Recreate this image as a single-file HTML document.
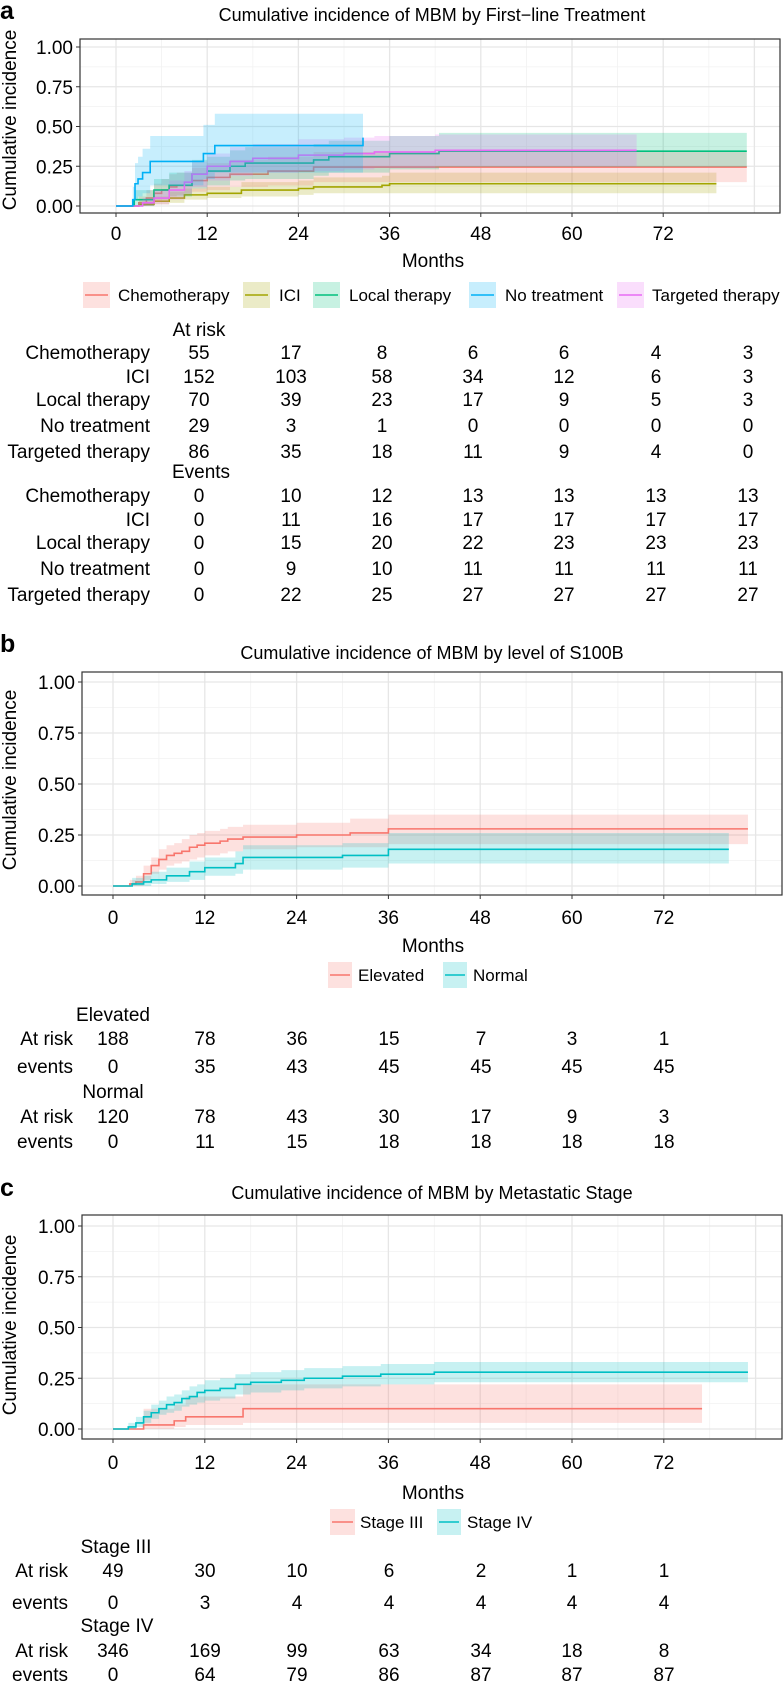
<!DOCTYPE html>
<html><head><meta charset="utf-8"><style>
html,body{margin:0;padding:0;background:#fff;}
svg{display:block;font-family:"Liberation Sans",Arial,sans-serif;}
</style></head><body>
<svg id="fig" width="783" height="1681" viewBox="0 0 783 1681" xmlns="http://www.w3.org/2000/svg"></svg>
<script>
// ---------- Panel a data ----------
const aGroups = ["Chemotherapy","ICI","Local therapy","No treatment","Targeted therapy"];
const aColors = ["#F8766D","#A3A500","#00BF7D","#00B0F6","#E76BF3"];
const aChemoT  = [0,3,4,5,6,7,8,10,12,15,20,26];
const aChemoV  = [0,0.02,0.05,0.08,0.1,0.12,0.13,0.16,0.18,0.2,0.22,0.245];
const aChemoLo = [0,0,0.01,0.03,0.04,0.06,0.07,0.09,0.1,0.12,0.13,0.15];
const aChemoHi = [0,0.06,0.1,0.14,0.17,0.2,0.21,0.24,0.27,0.29,0.31,0.34];
const aChemoEnd = 83;
const aIciT  = [0,3,5,7,9,12,16.5,24,26,35,36];
const aIciV  = [0,0.01,0.03,0.05,0.07,0.08,0.1,0.11,0.12,0.13,0.14];
const aIciLo = [0,0,0.01,0.02,0.04,0.05,0.06,0.07,0.08,0.08,0.08];
const aIciHi = [0,0.03,0.06,0.09,0.11,0.12,0.15,0.16,0.18,0.19,0.21];
const aIciEnd = 79;
const aLocT  = [0,2.4,5,7,10,12,15,17,26,28,36,42.5];
const aLocV  = [0,0.04,0.1,0.13,0.2,0.22,0.25,0.27,0.29,0.31,0.33,0.345];
const aLocLo = [0,0,0.04,0.06,0.11,0.13,0.16,0.17,0.19,0.21,0.23,0.245];
const aLocHi = [0,0.1,0.17,0.21,0.29,0.31,0.35,0.37,0.39,0.41,0.44,0.46];
const aLocEnd = 83;
const aNoT  = [0,2.2,2.5,2.9,3.5,4.5,11.5,13,32.5];
const aNoV  = [0,0.04,0.14,0.17,0.21,0.28,0.33,0.38,0.43];
const aNoLo = [0,0,0.04,0.06,0.08,0.13,0.17,0.21,0.24];
const aNoHi = [0,0.12,0.27,0.31,0.36,0.44,0.51,0.58,0.58];
const aNoEnd = 32.5;
const aTarT  = [0,3.5,5,7,9,10,12,15,18,24,30,34,42];
const aTarV  = [0,0.02,0.05,0.1,0.15,0.2,0.25,0.28,0.3,0.32,0.33,0.34,0.35];
const aTarLo = [0,0,0.01,0.04,0.08,0.12,0.16,0.19,0.21,0.22,0.23,0.24,0.25];
const aTarHi = [0,0.05,0.1,0.16,0.22,0.28,0.33,0.37,0.39,0.42,0.43,0.44,0.45];
const aTarEnd = 68.5;
const aRiskCols = [0,12,24,36,48,60,72];
const aRisk = [[55,17,8,6,6,4,3],[152,103,58,34,12,6,3],[70,39,23,17,9,5,3],[29,3,1,0,0,0,0],[86,35,18,11,9,4,0]];
const aEvents = [[0,10,12,13,13,13,13],[0,11,16,17,17,17,17],[0,15,20,22,23,23,23],[0,9,10,11,11,11,11],[0,22,25,27,27,27,27]];

// ---------- Panel b data ----------
const bGroups = ["Elevated","Normal"];
const bColors = ["#F8766D","#00BFC4"];
const bElT  = [0,2.2,3,4,5,6,7,8,9,10,11,12,14,15,17,24,31,36];
const bElV  = [0,0.01,0.02,0.06,0.1,0.13,0.15,0.16,0.17,0.19,0.2,0.21,0.22,0.23,0.24,0.25,0.26,0.28];
const bElLo = [0,0,0,0.03,0.06,0.08,0.1,0.11,0.12,0.13,0.14,0.15,0.16,0.17,0.18,0.19,0.19,0.205];
const bElHi = [0,0.03,0.05,0.1,0.14,0.18,0.2,0.21,0.23,0.25,0.26,0.27,0.28,0.29,0.3,0.31,0.33,0.35];
const bElEnd = 83;
const bNoT  = [0,2.5,4,5,7,10,12,16,17,30,36];
const bNoV  = [0,0.01,0.02,0.03,0.05,0.07,0.09,0.11,0.14,0.15,0.18];
const bNoLo = [0,0,0,0.01,0.02,0.03,0.05,0.06,0.08,0.09,0.11];
const bNoHi = [0,0.04,0.05,0.07,0.09,0.12,0.14,0.17,0.2,0.21,0.26];
const bNoEnd = 80.5;
const bCols = [0,12,24,36,48,60,72];
const bElRisk = [188,78,36,15,7,3,1];
const bElEvents = [0,35,43,45,45,45,45];
const bNoRisk = [120,78,43,30,17,9,3];
const bNoEvents = [0,11,15,18,18,18,18];

// ---------- Panel c data ----------
const cGroups = ["Stage III","Stage IV"];
const cColors = ["#F8766D","#00BFC4"];
const c3T  = [0,4,8,9.5,17];
const c3V  = [0,0.02,0.04,0.06,0.1];
const c3Lo = [0,0,0.01,0.02,0.03];
const c3Hi = [0,0.1,0.12,0.16,0.22];
const c3End = 77;
const c4T  = [0,2,3,4,5,6,7,8,9,10,11,12,14,16,18,22,25,30,35,42];
const c4V  = [0,0.01,0.03,0.06,0.08,0.1,0.12,0.13,0.15,0.16,0.18,0.19,0.2,0.22,0.23,0.24,0.25,0.26,0.27,0.28];
const c4Lo = [0,0,0.01,0.03,0.05,0.07,0.08,0.09,0.11,0.12,0.13,0.14,0.15,0.17,0.18,0.19,0.2,0.21,0.22,0.23];
const c4Hi = [0,0.03,0.06,0.09,0.12,0.14,0.16,0.17,0.19,0.21,0.22,0.24,0.25,0.27,0.28,0.29,0.3,0.31,0.32,0.33];
const c4End = 83;
const cCols = [0,12,24,36,48,60,72];
const c3Risk = [49,30,10,6,2,1,1];
const c3Events = [0,3,4,4,4,4,4];
const c4Risk = [346,169,99,63,34,18,8];
const c4Events = [0,64,79,86,87,87,87];

const xTicks = [0,12,24,36,48,60,72];
const yTicks = [0,0.25,0.5,0.75,1];
const yTickLabels = ["0.00","0.25","0.50","0.75","1.00"];

// ---------- drawing ----------
const NS = "http://www.w3.org/2000/svg";
const svg = document.getElementById("fig");
function mk(tag, attrs, parent, text){
  const e = document.createElementNS(NS, tag);
  for (const k in attrs) e.setAttribute(k, attrs[k]);
  if (text !== undefined) e.textContent = text;
  (parent || svg).appendChild(e);
  return e;
}
function txt(x, y, s, size, anchor, parent, name){
  const t = mk("text", {x:x, y:y, "font-size":size, "text-anchor":anchor||"middle", fill:"#000"}, parent, s);
  
  
  return t;
}

function panel(id, box, x0, xpm, y0, ypu){
  const g = mk("g", {});
  
  
  const X = m => x0 + m * xpm;
  const Y = v => y0 - v * ypu;
  // grid
  const grid = mk("g", {}, g);
  
  
  for (let m = 6; m <= 78; m += 12) mk("line", {x1:X(m), x2:X(m), y1:box[1], y2:box[3], stroke:"#f2f2f2", "stroke-width":0.8}, grid);
  for (let v = 0.125; v < 1.1; v += 0.25) mk("line", {x1:box[0], x2:box[2], y1:Y(v), y2:Y(v), stroke:"#f2f2f2", "stroke-width":0.8}, grid);
  for (let m = 0; m <= 84; m += 12) mk("line", {x1:X(m), x2:X(m), y1:box[1], y2:box[3], stroke:"#e6e6e6", "stroke-width":1.3}, grid);
  yTicks.forEach(v => mk("line", {x1:box[0], x2:box[2], y1:Y(v), y2:Y(v), stroke:"#e6e6e6", "stroke-width":1.3}, grid));
  return {g, X, Y, box};
}
function stepPts(T, V, end, X, Y){
  let d = [];
  for (let i = 0; i < T.length; i++){
    const nx = (i + 1 < T.length) ? T[i+1] : end;
    d.push([X(T[i]), Y(V[i])]); d.push([X(nx), Y(V[i])]);
  }
  return d;
}
function series(p, T, V, Lo, Hi, end, color, name){
  const up = stepPts(T, Hi, end, p.X, p.Y);
  const lo = stepPts(T, Lo, end, p.X, p.Y).reverse();
  const band = mk("polygon", {points: up.concat(lo).map(q => q.join(",")).join(" "), fill:color, "fill-opacity":0.22, stroke:"none"}, p.g);
  
  
  const pts = stepPts(T, V, end, p.X, p.Y);
  const line = mk("polyline", {points: pts.map(q => q.join(",")).join(" "), fill:"none", stroke:color, "stroke-width":1.6}, p.g);
  
  
}
function axes(p, id, tickY, monthsY, titleY, title, ytitleY){
  const b = p.box;
  const fr = mk("rect", {x:b[0], y:b[1], width:b[2]-b[0], height:b[3]-b[1], fill:"none", stroke:"#333", "stroke-width":1.2}, p.g);
  
  
  yTicks.forEach((v, i) => {
    mk("line", {x1:b[0]-4, x2:b[0], y1:p.Y(v), y2:p.Y(v), stroke:"#333", "stroke-width":1}, p.g);
    txt(b[0]-7, p.Y(v)+7, yTickLabels[i], 19, "end", p.g, id + '-y-tick-label');
  });
  xTicks.forEach(m => {
    mk("line", {x1:p.X(m), x2:p.X(m), y1:b[3], y2:b[3]+4, stroke:"#333", "stroke-width":1}, p.g);
    txt(p.X(m), tickY+7, String(m), 19, "middle", p.g, id + '-x-tick-label');
  });
  txt(433, monthsY+7, "Months", 19, "middle", p.g, id + '-x-axis-title');
  const yt = txt(0, 0, "Cumulative incidence", 19, "middle", p.g, id + '-y-axis-title');
  yt.setAttribute("transform", "translate(16," + ytitleY + ") rotate(-90)");
  txt(432, titleY+6, title, 18, "middle", p.g, id + '-title');
}
function legend(items, y, id){
  const g = mk("g", {});
  
  
  items.forEach(it => {
    const e = mk("g", {}, g);
    
    
    mk("rect", {x:it.kx, y:y-13, width:it.kw, height:26, fill:it.c, "fill-opacity":0.22}, e);
    mk("line", {x1:it.kx+2, x2:it.kx+it.kw-2, y1:y, y2:y, stroke:it.c, "stroke-width":1.6}, e);
    txt(it.tx, y+6, it.label, 17, "start", e, 'legend-label');
  });
}

// Panel letters
[["a",10],["b",643],["c",1187]].forEach(a => {
  const t = mk("text", {x:0, y:a[1]+9, "font-size":25, "font-weight":"bold"}, svg, a[0]);
  
  
});

// ----- Panel a -----
const pa = panel("a", [80,39,780,213], 116, 7.6, 206, 159);
series(pa, aIciT, aIciV, aIciLo, aIciHi, aIciEnd, aColors[1], "ici");
series(pa, aChemoT, aChemoV, aChemoLo, aChemoHi, aChemoEnd, aColors[0], "chemotherapy");
series(pa, aLocT, aLocV, aLocLo, aLocHi, aLocEnd, aColors[2], "local-therapy");
series(pa, aTarT, aTarV, aTarLo, aTarHi, aTarEnd, aColors[4], "targeted-therapy");
series(pa, aNoT, aNoV, aNoLo, aNoHi, aNoEnd, aColors[3], "no-treatment");
axes(pa, "a", 233, 260, 15, "Cumulative incidence of MBM by First\u2212line Treatment", 120);
legend([
  {kx:83,kw:27,tx:118,label:aGroups[0],c:aColors[0]},
  {kx:243,kw:27,tx:279,label:aGroups[1],c:aColors[1]},
  {kx:313,kw:27,tx:349,label:aGroups[2],c:aColors[2]},
  {kx:469,kw:27,tx:505,label:aGroups[3],c:aColors[3]},
  {kx:617,kw:27,tx:652,label:aGroups[4],c:aColors[4]}], 295, "a");
const aColX = [199,291,382,473,564,656,748];
const ta = mk("g", {});


txt(199, 329+7, "At risk", 19, "middle", ta, 'at-risk-heading');
const aRiskY = [352,376,399,425,451];
const aEvY = [495,519,542,568,594];
aGroups.forEach((gname, i) => {
  txt(150, aRiskY[i]+7, gname, 19, "end", ta, 'row-label');
  aRiskCols.forEach((m, j) => txt(aColX[j], aRiskY[i]+7, String(aRisk[i][j]), 19, "middle", ta, 'at-risk-value'));
  txt(150, aEvY[i]+7, gname, 19, "end", ta, 'row-label');
  aRiskCols.forEach((m, j) => txt(aColX[j], aEvY[i]+7, String(aEvents[i][j]), 19, "middle", ta, 'events-value'));
});
txt(201, 471+7, "Events", 19, "middle", ta, 'events-heading');

// ----- Panel b -----
const pb = panel("b", [82,672,782,895], 113, 7.65, 886, 204);
series(pb, bElT, bElV, bElLo, bElHi, bElEnd, bColors[0], "elevated");
series(pb, bNoT, bNoV, bNoLo, bNoHi, bNoEnd, bColors[1], "normal");
axes(pb, "b", 917, 945, 653, "Cumulative incidence of MBM by level of S100B", 780);
legend([
  {kx:328,kw:24,tx:358,label:bGroups[0],c:bColors[0]},
  {kx:443,kw:24,tx:473,label:bGroups[1],c:bColors[1]}], 975, "b");
const bColX = [113,205,297,389,481,572,664];
const tb = mk("g", {});


function tableRows(g, heading, hy, risk, ev, ry, ey, labx, cols, hx){
  txt(hx, hy+7, heading, 19, "middle", g, 'group-heading');
  txt(labx, ry+7, "At risk", 19, "end", g, 'row-label');
  txt(labx, ey+7, "events", 19, "end", g, 'row-label');
  cols.forEach((x, j) => {
    txt(x, ry+7, String(risk[j]), 19, "middle", g, 'at-risk-value');
    txt(x, ey+7, String(ev[j]), 19, "middle", g, 'events-value');
  });
}
tableRows(tb, bGroups[0], 1014, bElRisk, bElEvents, 1038, 1066, 73, bColX, 113);
tableRows(tb, bGroups[1], 1091, bNoRisk, bNoEvents, 1116, 1141, 73, bColX, 113);

// ----- Panel c -----
const pc = panel("c", [82,1215,782,1439], 113, 7.65, 1429, 203);
series(pc, c3T, c3V, c3Lo, c3Hi, c3End, cColors[0], "stage-iii");
series(pc, c4T, c4V, c4Lo, c4Hi, c4End, cColors[1], "stage-iv");
axes(pc, "c", 1462, 1492, 1193, "Cumulative incidence of MBM by Metastatic Stage", 1325);
legend([
  {kx:330,kw:25,tx:360,label:cGroups[0],c:cColors[0]},
  {kx:437,kw:24,tx:467,label:cGroups[1],c:cColors[1]}], 1522, "c");
const tc = mk("g", {});


tableRows(tc, cGroups[0], 1546, c3Risk, c3Events, 1570, 1602, 68, bColX, 116);
tableRows(tc, cGroups[1], 1625, c4Risk, c4Events, 1650, 1674, 68, bColX, 117);
</script>
</body></html>
